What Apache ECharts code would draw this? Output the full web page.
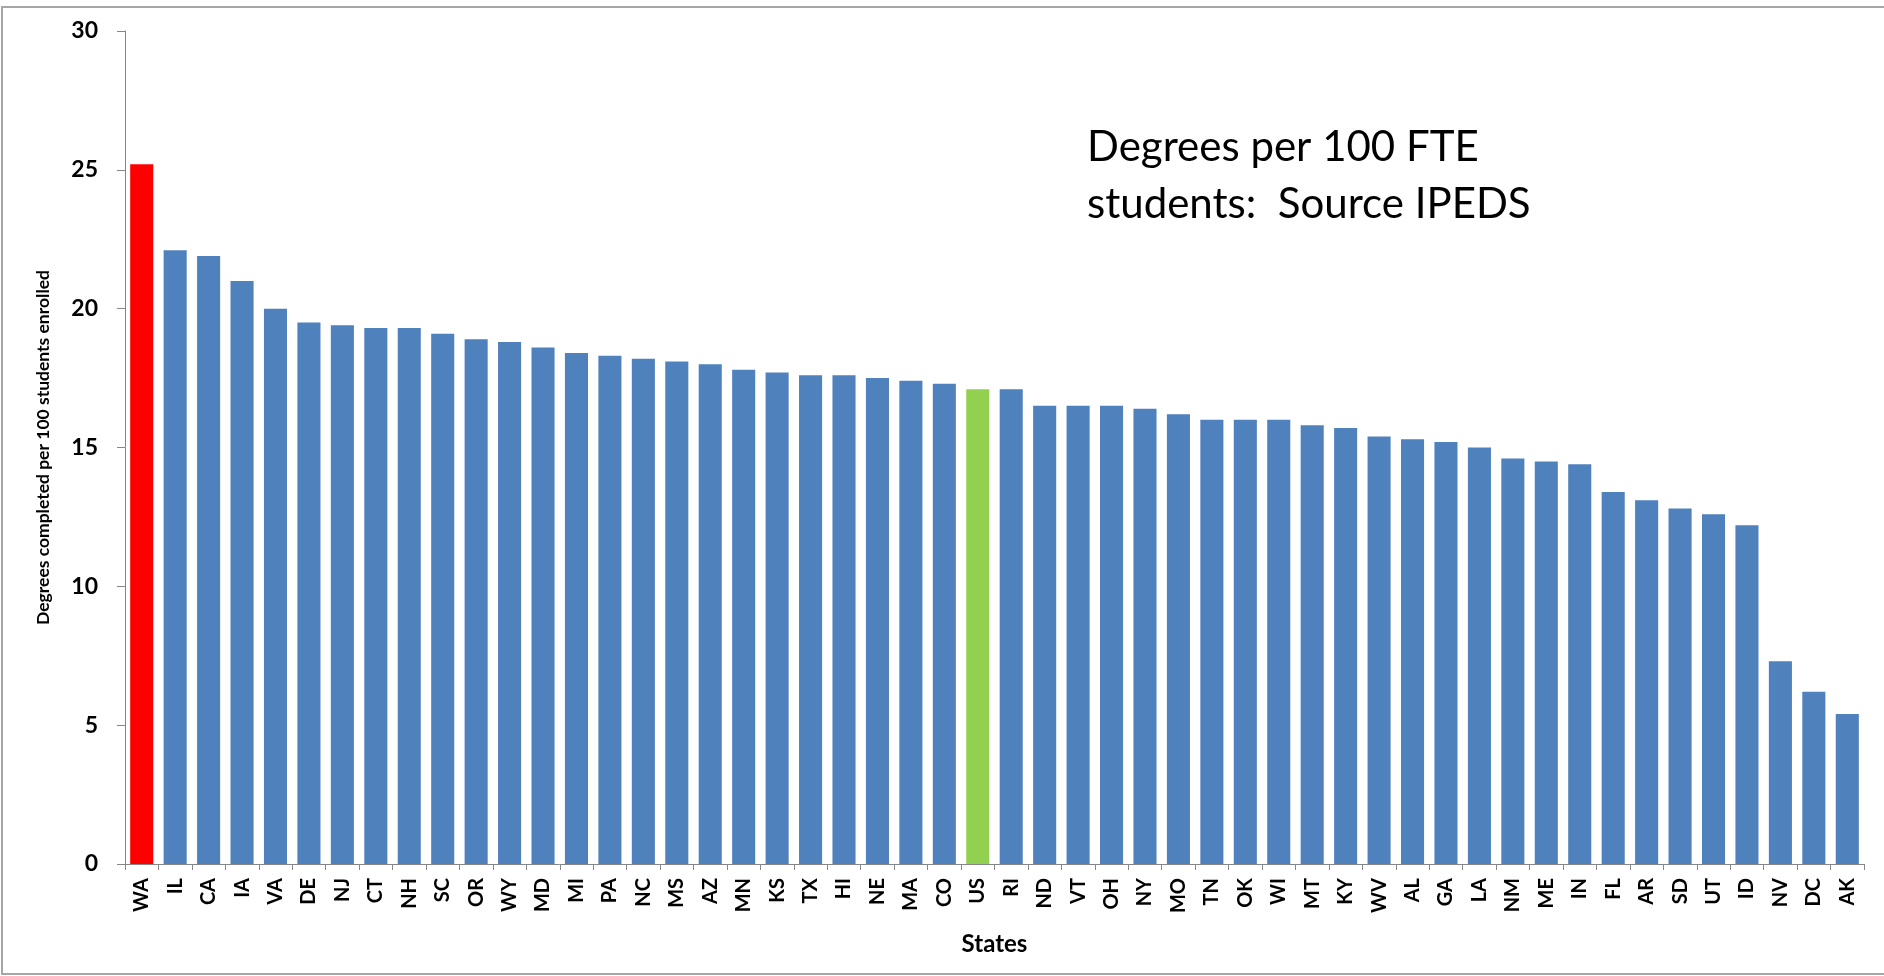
<!DOCTYPE html>
<html>
<head>
<meta charset="utf-8">
<title>Degrees per 100 FTE students</title>
<script src="https://cdn.jsdelivr.net/npm/echarts@6/dist/echarts.min.js"></script>
<style>
  html, body { margin: 0; padding: 0; background: #ffffff; }
  #chart { width: 1884px; height: 976px; }
</style>
</head>
<body>
<div id="chart"></div>
<script>
// States ranked by degrees completed per 100 students enrolled
const states = ['WA','IL','CA','IA','VA','DE','NJ','CT','NH','SC','OR','WY','MD','MI','PA','NC','MS','AZ','MN','KS',
  'TX','HI','NE','MA','CO','US','RI','ND','VT','OH','NY','MO','TN','OK','WI','MT','KY','WV','AL','GA',
  'LA','NM','ME','IN','FL','AR','SD','UT','ID','NV','DC','AK'];
const degrees = [25.2, 22.1, 21.9, 21.0, 20.0, 19.5, 19.4, 19.3, 19.3, 19.1, 18.9, 18.8, 18.6, 18.4, 18.3, 18.2, 18.1, 18.0, 17.8, 17.7,
  17.6, 17.6, 17.5, 17.4, 17.3, 17.1, 17.1, 16.5, 16.5, 16.5, 16.4, 16.2, 16.0, 16.0, 16.0, 15.8, 15.7, 15.4, 15.3, 15.2,
  15.0, 14.6, 14.5, 14.4, 13.4, 13.1, 12.8, 12.6, 12.2, 7.3, 6.2, 5.4];
const yTicks = [0, 5, 10, 15, 20, 25, 30];

const baseColor = '#4F81BD';
const highlight = { WA: '#FF0000', US: '#92D050' };

const font = 'Lato, "Open Sans", sans-serif';
const axisGray = '#868686';

const chart = echarts.init(document.getElementById('chart'), null, { renderer: 'canvas' });

chart.setOption({
  animation: false,
  backgroundColor: '#ffffff',
  textStyle: { fontFamily: font },
  title: {
    text: 'Degrees per 100 FTE\nstudents:  Source IPEDS',
    left: 1082,
    top: 114,
    textStyle: {
      fontFamily: font,
      fontWeight: 'normal',
      fontSize: 42,
      lineHeight: 57,
      color: '#000000'
    }
  },
  graphic: [{
    type: 'rect',
    silent: true,
    shape: { x: 2, y: 7, width: 1900, height: 967 },
    style: { fill: 'none', stroke: '#a6a6a6', lineWidth: 2 }
  }],
  grid: { left: 125, right: 20, top: 31, bottom: 112, containLabel: false },
  xAxis: {
    type: 'category',
    data: states,
    name: 'States',
    nameLocation: 'middle',
    nameGap: 68,
    nameTextStyle: { fontFamily: font, fontWeight: 'bold', fontSize: 24, color: '#000', verticalAlign: 'top' },
    axisLine: { lineStyle: { color: axisGray, width: 1 } },
    axisTick: { show: true, length: 6, lineStyle: { color: axisGray } },
    axisLabel: {
      rotate: 90,
      interval: 0,
      margin: 14,
      fontFamily: font,
      fontWeight: 'bold',
      fontSize: 20,
      color: '#000'
    }
  },
  yAxis: {
    type: 'value',
    min: yTicks[0],
    max: yTicks[yTicks.length - 1],
    interval: yTicks[1] - yTicks[0],
    name: 'Degrees completed per 100 students enrolled',
    nameLocation: 'middle',
    nameGap: 73,
    nameTextStyle: { fontFamily: font, fontWeight: 'bold', fontSize: 17.5, color: '#000' },
    splitLine: { show: false },
    axisLine: { show: true, lineStyle: { color: axisGray, width: 1 } },
    axisTick: { show: true, length: 8, inside: false, lineStyle: { color: axisGray } },
    axisLabel: {
      margin: 27,
      fontFamily: font,
      fontWeight: 'bold',
      fontSize: 23,
      color: '#000'
    }
  },
  series: [{
    type: 'bar',
    barCategoryGap: '31%',
    data: states.map((s, i) => ({
      value: degrees[i],
      itemStyle: { color: highlight[s] || baseColor }
    }))
  }]
});
</script>
</body>
</html>
